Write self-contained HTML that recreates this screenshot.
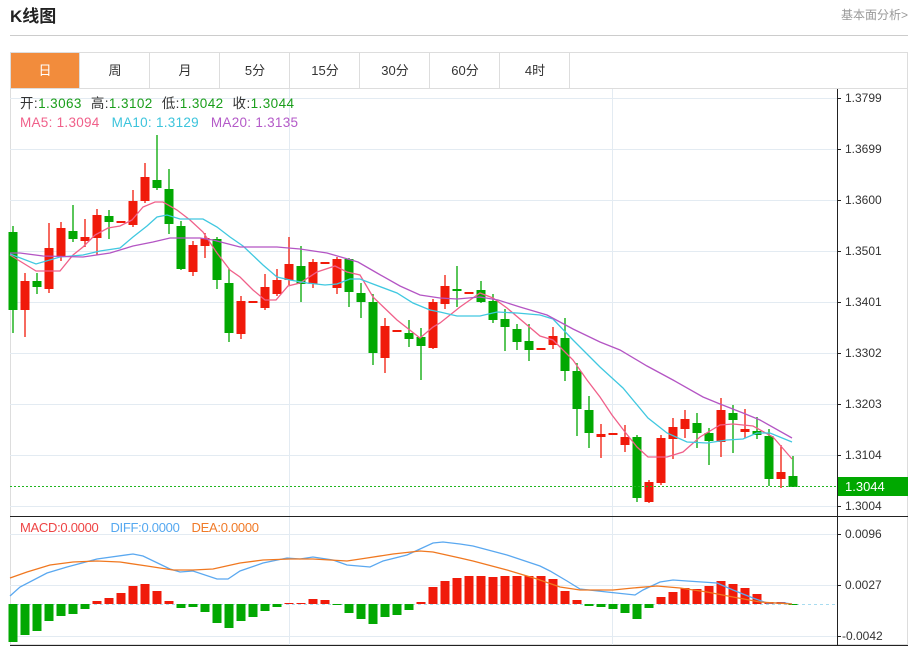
<!DOCTYPE html>
<html><head><meta charset="utf-8"><style>
body{margin:0;background:#fff;width:918px;height:648px;overflow:hidden;font-family:"Liberation Sans","Noto Sans CJK SC",sans-serif;}
</style></head><body>
<svg id="s" width="918" height="648" xmlns="http://www.w3.org/2000/svg" font-family="Liberation Sans, Noto Sans CJK SC, sans-serif">
<text x="10" y="22" font-size="17" font-weight="bold" fill="#222">K线图</text>
<text x="908" y="19" font-size="12" fill="#999" text-anchor="end">基本面分析&gt;</text>
<line x1="10" y1="35.5" x2="908" y2="35.5" stroke="#ccc"/>
<rect x="10.5" y="52.5" width="897" height="592" fill="none" stroke="#ddd"/>
<line x1="10" y1="88.5" x2="908" y2="88.5" stroke="#ddd"/>
<rect x="11" y="53" width="68" height="35" fill="#f28c3c"/>
<g stroke="#ddd"><line x1="79.5" y1="53" x2="79.5" y2="88"/><line x1="149.5" y1="53" x2="149.5" y2="88"/><line x1="219.5" y1="53" x2="219.5" y2="88"/><line x1="289.5" y1="53" x2="289.5" y2="88"/><line x1="359.5" y1="53" x2="359.5" y2="88"/><line x1="429.5" y1="53" x2="429.5" y2="88"/><line x1="499.5" y1="53" x2="499.5" y2="88"/><line x1="569.5" y1="53" x2="569.5" y2="88"/></g>
<g font-size="13" text-anchor="middle" fill="#333">
<text x="45" y="75" fill="#fff">日</text><text x="115" y="75">周</text><text x="185" y="75">月</text><text x="255" y="75">5分</text><text x="325" y="75">15分</text><text x="395" y="75">30分</text><text x="465" y="75">60分</text><text x="535" y="75">4时</text></g>
<g id="grid" stroke="#e3ebf2" stroke-width="1"></g>
<line x1="10" y1="516.5" x2="908" y2="516.5" stroke="#222"/>
<line x1="10" y1="645.5" x2="908" y2="645.5" stroke="#222"/>
<line x1="837.5" y1="89" x2="837.5" y2="646" stroke="#222"/>
<g id="c"></g>
<line x1="10" y1="486.5" x2="837" y2="486.5" stroke="#1fb51f" stroke-dasharray="2,2"/>
<rect x="838" y="477" width="70" height="19" fill="#00a800"/>
<text x="845" y="491" font-size="13" fill="#fff">1.3044</text>
<g font-size="13.5">
<text x="20" y="108" textLength="274" lengthAdjust="spacing"><tspan fill="#333">开:</tspan><tspan fill="#1a9e1a">1.3063</tspan><tspan fill="#333" dx="9">高:</tspan><tspan fill="#1a9e1a">1.3102</tspan><tspan fill="#333" dx="9">低:</tspan><tspan fill="#1a9e1a">1.3042</tspan><tspan fill="#333" dx="9">收:</tspan><tspan fill="#1a9e1a">1.3044</tspan></text>
<text x="20" y="127" textLength="278" lengthAdjust="spacing"><tspan fill="#f0608a">MA5: 1.3094</tspan><tspan fill="#3cc4dc" dx="12">MA10: 1.3129</tspan><tspan fill="#b45ac8" dx="12">MA20: 1.3135</tspan></text>
</g>
<text x="20" y="532" font-size="13" textLength="239" lengthAdjust="spacing"><tspan fill="#ee4444">MACD:0.0000</tspan><tspan fill="#55a8f0" dx="12">DIFF:0.0000</tspan><tspan fill="#f07a28" dx="12">DEA:0.0000</tspan></text>
<text x="845" y="102" font-size="12" fill="#333">1.3799</text>
<text x="845" y="153" font-size="12" fill="#333">1.3699</text>
<text x="845" y="204" font-size="12" fill="#333">1.3600</text>
<text x="845" y="255" font-size="12" fill="#333">1.3501</text>
<text x="845" y="306" font-size="12" fill="#333">1.3401</text>
<text x="845" y="357" font-size="12" fill="#333">1.3302</text>
<text x="845" y="408" font-size="12" fill="#333">1.3203</text>
<text x="845" y="459" font-size="12" fill="#333">1.3104</text>
<text x="845" y="510" font-size="12" fill="#333">1.3004</text>
<text x="845" y="538" font-size="12" fill="#333">0.0096</text>
<text x="845" y="589" font-size="12" fill="#333">0.0027</text>
<text x="842" y="640" font-size="12" fill="#333">-0.0042</text>
</svg>
<script>
var NS="http://www.w3.org/2000/svg";
function el(p,t,a){var e=document.createElementNS(NS,t);for(var k in a)e.setAttribute(k,a[k]);p.appendChild(e);return e;}
var g=document.getElementById('grid');
[98,149,200,251,302,353,404,455,506,534,585,636].forEach(function(y){el(g,'line',{x1:10,y1:y+.5,x2:837,y2:y+.5});});
[289,612].forEach(function(x){el(g,'line',{x1:x+.5,y1:89,x2:x+.5,y2:645});});
el(g,'line',{x1:10,y1:604.5,x2:837,y2:604.5,stroke:'#a8dcf0','stroke-dasharray':'3,3'});
var ax=document.getElementById('s');
[98,149,200,251,302,353,404,455,506,534,585,636].forEach(function(y){el(ax,'line',{x1:837,y1:y+.5,x2:841,y2:y+.5,stroke:'#222'});});
var c=document.getElementById('c');
var D=[['g',232,310,226,333],['r',281,310,273,337],['g',281,287,273,294],['r',248,289,223,293],['r',228,256,222,261],['g',231,239,205,242],['r',237,241,219,247],['r',215,238,209,255],['g',216,222,210,239],['r',221,222,221,222],['r',201,225,190,227],['r',177,201,163,203],['g',180,188,135,190],['g',189,224,169,234],['g',226,269,221,270],['r',245,272,241,276],['r',238,246,233,258],['g',239,280,237,289],['g',283,333,269,342],['r',301,334,296,339],['r',301,302,301,302],['r',287,308,274,310],['r',280,294,269,296],['r',264,280,237,285],['g',266,284,246,302],['r',262,284,259,288],['r',262,263,262,263],['r',259,288,257,294],['g',259,292,258,307],['g',293,302,283,318],['g',302,353,294,365],['r',326,358,318,373],['r',330,331,330,331],['g',333,339,320,347],['g',337,346,328,380],['r',302,348,299,349],['r',286,304,275,309],['g',289,291,266,307],['r',292,293,292,293],['g',290,302,281,303],['g',301,320,294,323],['g',319,327,309,351],['g',329,342,324,350],['g',341,350,324,361],['r',348,349,348,349],['r',336,345,327,349],['g',338,371,318,381],['g',371,409,363,436],['g',410,433,396,448],['r',434,437,424,458],['r',433,434,433,434],['r',437,445,425,452],['g',437,498,435,502],['r',482,502,480,503],['r',438,483,435,485],['r',427,439,418,459],['r',419,429,410,438],['g',423,433,413,448],['g',433,441,428,465],['r',410,442,398,457],['g',413,420,405,453],['r',429,432,409,438],['g',431,435,417,439],['g',436,479,429,486],['r',472,479,445,488],['g',476,487,456,487]];
D.forEach(function(d,i){var x=13+12*i,col=d[0]=='r'?'#f01a0a':'#02a802';
el(c,'line',{x1:x,y1:d[3],x2:x,y2:d[4],stroke:col,'stroke-width':1.3});
var h=Math.max(2,d[2]-d[1]);el(c,'rect',{x:x-4.5,y:d[1],width:9,height:h,fill:col});});
var M=[642,635,631,621,616,614,609,601,598,593,586,584,591,601,608,607,612,623,628,621,617,611,607,603,603,599,600,604,613,619,624,617,615,610,602,587,581,578,576,576,577,576,576,576,576,579,591,600,606,607,609,613,619,608,597,592,588,589,586,581,584,588,594,602,602,604];
M.forEach(function(y,i){var x=13+12*i;var col=y<604?'#f01a0a':'#02a802';var t=Math.min(y,604),h=Math.max(1,Math.abs(y-604));el(c,'rect',{x:x-4.5,y:t,width:9,height:h,fill:col});});
function pl(pts,col){el(c,'polyline',{points:pts,fill:'none',stroke:col,'stroke-width':1.3});}
pl("10,255 36,271 60,271 73,255 83,247 95,235 108,228 120,226 132,220 143,207 155,202 163,202 177,210 190,220 203,232 217,253 230,270 240,277 253,290 265,300 276,300 288,286 300,283 317,272 335,266 347,272 360,275 373,297 397,320 420,338 433,327 440,323 460,307 480,293 493,298 507,308 540,336 553,340 573,360 587,380 600,397 612,415 625,432 637,447 648,457 667,457 683,452 700,437 720,425 733,424 753,426 773,437 792,459","#f0608a");
pl("10,254 36,264 60,257 83,255 100,251 120,248 133,237 147,226 157,217 167,215 180,219 203,219 217,227 230,237 243,246 263,265 277,277 290,280 307,283 325,285 337,284 350,279 360,279 373,284 397,293 413,303 430,310 440,312 457,316 480,316 497,312 517,313 540,315 553,319 573,340 600,367 623,388 648,418 667,433 687,442 707,443 727,440 743,439 757,433 770,433 792,442","#40c8e0");
pl("10,253 20,253 43,256 83,257 110,253 133,246 153,242 170,238 200,238 213,240 240,247 277,247 300,249 327,253 358,262 377,273 400,286 420,295 440,298 457,299 480,297 498,300 520,307 547,315 573,329 600,342 620,350 647,366 673,380 703,397 720,404 743,413 760,420 792,438","#b455c4");
pl("10,596 20,587 47,573 67,567 97,559 133,554 143,556 170,569 180,572 193,571 217,579 228,579 240,571 263,563 287,558 300,559 313,557 333,560 347,565 370,567 383,561 407,555 433,543 443,542 460,544 473,546 507,555 540,566 550,571 567,581 580,589 607,592 635,595 643,590 660,582 673,580 687,581 717,583 733,590 753,598 767,603 785,603 792,604","#5aa8f0");
pl("10,578 27,572 50,565 73,562 97,561 120,562 147,566 173,570 193,570 213,569 240,563 263,560 290,559 313,559 347,561 367,558 393,554 420,551 433,552 460,558 473,561 507,570 537,579 560,587 580,590 613,590 633,588 657,586 680,588 707,592 733,597 760,602 792,604","#f07820");
</script>
</body></html>
